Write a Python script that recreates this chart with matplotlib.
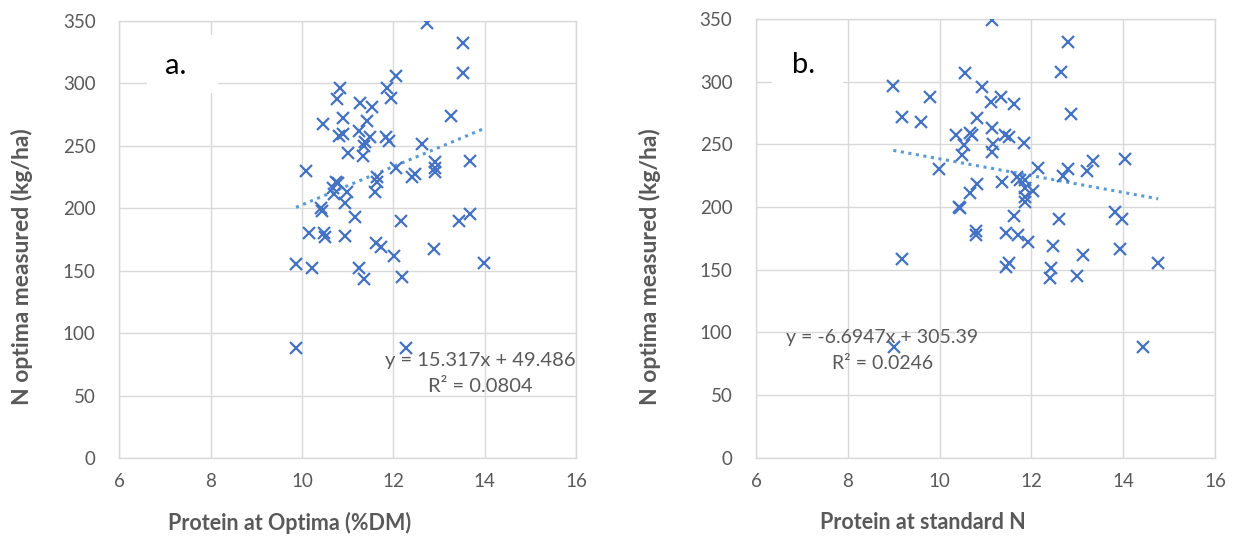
import matplotlib
matplotlib.use('Agg')
import matplotlib.pyplot as plt
from matplotlib.patches import Rectangle
import numpy as np

plt.rcParams['font.family'] = ['Lato', 'DejaVu Sans']

# --- panel a: protein at optimum N vs measured N optimum ---
protein_opt = [
    12.74, 13.53, 13.53, 12.05, 10.83, 11.86, 10.76, 11.94, 11.27, 11.54,
    13.26, 10.89, 11.43, 10.46, 11.25, 10.81, 10.90, 11.49, 11.85, 11.91,
    11.38, 11.35, 12.63, 11.01, 11.34, 10.08, 12.07, 12.91, 13.67, 12.47,
    12.42, 12.92, 12.91, 11.65, 11.65, 10.74, 10.79, 10.68, 10.98, 10.71,
    11.60, 10.94, 10.41, 10.44, 11.16, 12.16, 13.44, 13.69, 10.16, 10.49,
    10.50, 10.94, 11.62, 11.74, 12.01, 12.89, 9.87, 10.22, 11.25, 11.36,
    12.18, 13.99, 9.87, 12.27,
]
nopt_a = [
    348, 332, 308, 306, 296, 296, 287, 288, 284, 281,
    274, 272, 270, 267, 262, 258, 259, 257, 257, 254,
    253, 250, 251, 244, 242, 230, 232, 237, 238, 227,
    225, 232, 229, 225, 221, 221, 220, 216, 213, 211,
    213, 204, 200, 198, 193, 190, 190, 195, 180, 180,
    177, 178, 172, 169, 162, 167, 155, 152, 152, 143,
    145, 156, 88, 88,
]

# --- panel b: protein at standard N vs measured N optimum ---
protein_std = [
    11.15, 12.79, 12.64, 10.55, 8.99, 10.92, 9.79, 11.34, 11.11, 11.61,
    12.86, 9.19, 9.59, 10.82, 11.15, 10.36, 10.66, 10.70, 11.42, 11.50,
    11.84, 10.52, 11.16, 11.14, 10.49, 9.99, 12.15, 13.35, 14.03, 12.69,
    12.80, 13.22, 11.68, 11.74, 11.86, 11.35, 10.82, 10.66, 12.03, 11.86,
    11.86, 11.86, 10.43, 10.44, 11.62, 12.59, 13.82, 13.98, 10.79, 10.79,
    11.45, 11.70, 11.92, 12.46, 13.13, 13.93, 14.76, 9.17, 11.45, 11.52,
    12.43, 12.41, 13.00, 9.01, 14.42,
]
nopt_b = [
    349, 332, 308, 306.6, 296.5, 295.5, 287.5, 287.5, 284, 282,
    274, 272, 267.6, 270.8, 262.8, 257.4, 258.8, 257.4, 257.4, 255.6,
    251.3, 249.5, 250.3, 244, 241.5, 230, 231, 236.7, 238.5, 225,
    230, 228.7, 224, 221.5, 221.5, 220, 218, 211.4, 212.8, 215.4,
    208, 204, 200, 199, 192.8, 190.4, 195.7, 190.4, 181, 177.7,
    179.5, 177.7, 171.8, 169, 161.7, 166.5, 155, 158.5, 152.4, 155,
    151.6, 143, 145, 88, 88,
]

# Excel linear trendline coefficients shown on the chart
fit_a = (15.317, 49.486, 0.0804)
fit_b = (-6.6947, 305.39, 0.0246)

x_ticks = [6, 8, 10, 12, 14, 16]
y_ticks = [0, 50, 100, 150, 200, 250, 300, 350]

MARKER = '#4472C4'
TREND = '#5B9BD5'
GRID = '#D9D9D9'
TEXT = '#595959'


def style_axes(ax):
    ax.set_xlim(6, 16)
    ax.set_ylim(0, 350)
    ax.set_xticks(x_ticks)
    ax.set_yticks(y_ticks)
    ax.grid(True, color=GRID, linewidth=1.0)
    ax.set_axisbelow(True)
    for sp in ax.spines.values():
        sp.set_color(GRID)
        sp.set_linewidth(1.0)
    ax.tick_params(length=0, labelsize=13.5, labelcolor=TEXT)
    ax.tick_params(axis='x', pad=11)
    ax.tick_params(axis='y', pad=17)


def draw_panel(ax, xs, ys, fit):
    slope, icpt, r2 = fit
    ax.plot(xs, ys, linestyle='none', marker='x', color=MARKER,
            markersize=8, markeredgewidth=1.6, zorder=3)
    xl = np.array([min(xs), max(xs)])
    ax.plot(xl, slope * xl + icpt, color=TREND, linestyle=(0, (1, 1.5)),
            linewidth=2.2, zorder=2)
    style_axes(ax)
    sign = '+' if icpt >= 0 else '-'
    return f"y = {slope:g}x {sign} {abs(icpt):g}", f"R² = {r2:g}"


fig = plt.figure(figsize=(12.36, 5.39), dpi=100)
ax_a = fig.add_axes([0.0965, 0.1499, 0.3695, 0.8117])
ax_b = fig.add_axes([0.6117, 0.1508, 0.3714, 0.8139])

eq_a, r_a = draw_panel(ax_a, protein_opt, nopt_a, fit_a)
eq_b, r_b = draw_panel(ax_b, protein_std, nopt_b, fit_b)

# equation labels
ax_a.text(13.9, 78, eq_a, ha='center', va='center', fontsize=14.5, color=TEXT)
ax_a.text(13.9, 57, r_a, ha='center', va='center', fontsize=14.5, color=TEXT)
ax_b.text(8.75, 96, eq_b, ha='center', va='center', fontsize=14, color=TEXT)
ax_b.text(8.75, 75, r_b, ha='center', va='center', fontsize=14, color=TEXT)

# panel letters on white boxes that mask the grid
for ax, letter, bx, tx in ((ax_a, 'a.', 0.061, 0.100),
                           (ax_b, 'b.', 0.034, 0.078)):
    ax.add_patch(Rectangle((bx, 0.835), 0.155, 0.133, transform=ax.transAxes,
                           facecolor='white', edgecolor='none', zorder=1.5))
    ax.text(tx, 0.896, letter, transform=ax.transAxes, fontsize=21,
            color='black', va='center', ha='left', zorder=4)

# axis titles
fig.text(0.018, 0.505, 'N optima measured (kg/ha)', rotation=90, ha='center',
         va='center', fontsize=16.5, fontweight='bold', color=TEXT)
fig.text(0.526, 0.505, 'N optima measured (kg/ha)', rotation=90, ha='center',
         va='center', fontsize=16.5, fontweight='bold', color=TEXT)
fig.text(0.234, 0.03, 'Protein at Optima (%DM)', ha='center', va='center',
         fontsize=15.5, fontweight='bold', color=TEXT)
fig.text(0.747, 0.03, 'Protein at standard N', ha='center', va='center',
         fontsize=15.5, fontweight='bold', color=TEXT)

fig.savefig('out.png', dpi=100)
